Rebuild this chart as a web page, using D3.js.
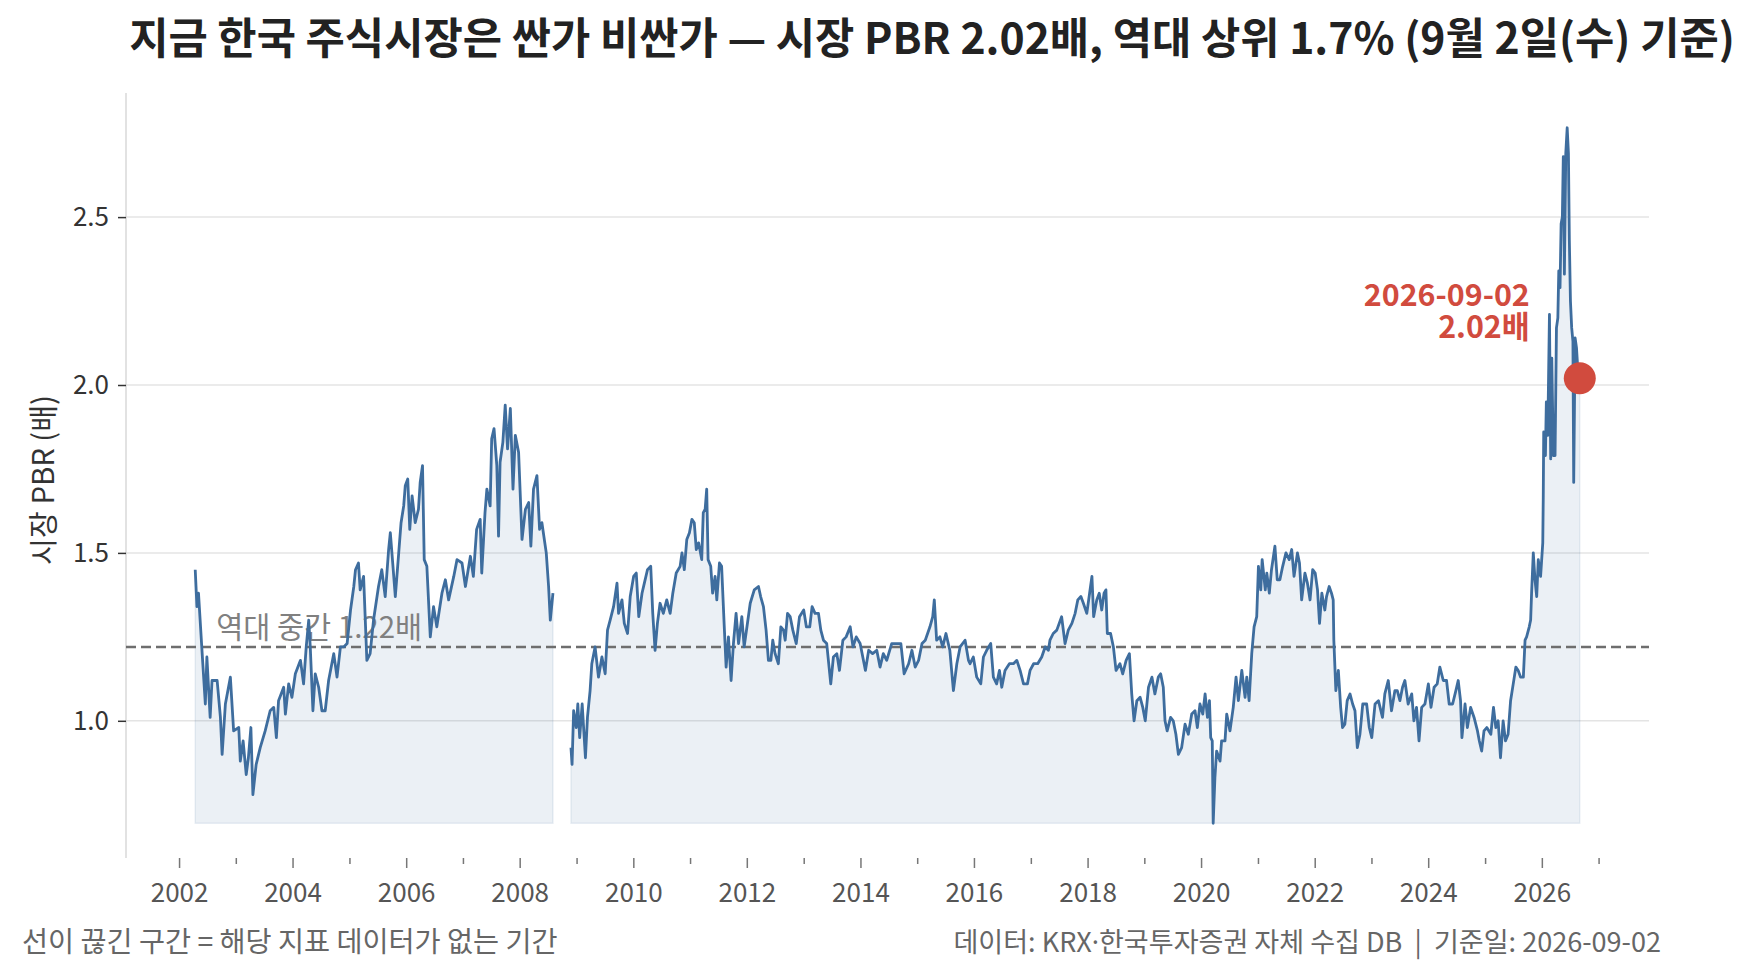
<!DOCTYPE html>
<html>
<head>
<meta charset="utf-8">
<script src="https://cdn.jsdelivr.net/npm/d3@7"></script>
<style>
  body { margin: 0; background: #fff; }
  text { font-family: "Noto Sans CJK KR", "Noto Sans", sans-serif; }
</style>
</head>
<body>
<div id="chart"></div>
<script>
// ---------------------------------------------------------------- data
var titleText = "지금 한국 주식시장은 싼가 비싼가 — 시장 PBR 2.02배, 역대 상위 1.7% (9월 2일(수) 기준)";
var yLabelText = "시장 PBR (배)";
var footLeftText = "선이 끊긴 구간 = 해당 지표 데이터가 없는 기간";
var footRightText = "데이터: KRX·한국투자증권 자체 수집 DB  |  기준일: 2026-09-02";

var medianPbr = 1.22;
var medianLabel = "역대 중간 1.22배";
var latestDate = "2026-09-02";
var latestPbr = 2.02;
var latestLabel = ["2026-09-02", "2.02배"];

var yTicks = [1.0, 1.5, 2.0, 2.5];
var xMajorYears = [2002, 2004, 2006, 2008, 2010, 2012, 2014, 2016, 2018, 2020, 2022, 2024, 2026];
var xMinorYears = [2003, 2005, 2007, 2009, 2011, 2013, 2015, 2017, 2019, 2021, 2023, 2025, 2027];

// 2002-04 ~ 2008-08
var seg1Dates = ["2002-04-15","2002-04-26","2002-05-06","2002-05-27","2002-06-19","2002-06-29","2002-07-20","2002-08-01","2002-09-03","2002-09-24",
  "2002-10-05","2002-10-26","2002-11-27","2002-12-18","2003-01-20","2003-01-30","2003-02-17","2003-03-09","2003-03-23","2003-04-08",
  "2003-04-21","2003-05-12","2003-06-07","2003-07-09","2003-08-10","2003-09-02","2003-09-19","2003-10-03","2003-11-05","2003-11-16",
  "2003-12-07","2003-12-28","2004-01-19","2004-02-21","2004-03-12","2004-03-29","2004-04-14","2004-04-24","2004-05-11","2004-05-26",
  "2004-06-17","2004-07-08","2004-07-29","2004-08-20","2004-09-22","2004-10-13","2004-11-04","2004-11-25","2004-12-17","2005-01-08",
  "2005-01-29","2005-02-09","2005-02-28","2005-03-11","2005-04-02","2005-04-23","2005-05-14","2005-06-05","2005-07-07","2005-07-28",
  "2005-08-19","2005-09-10","2005-09-21","2005-10-08","2005-10-23","2005-11-14","2005-11-29","2005-12-16","2005-12-26","2006-01-11",
  "2006-01-24","2006-02-08","2006-02-28","2006-03-21","2006-04-01","2006-04-16","2006-04-27","2006-05-14","2006-06-05","2006-06-26",
  "2006-07-17","2006-08-19","2006-09-10","2006-10-01","2006-11-03","2006-11-24","2006-12-26","2007-01-17","2007-02-18","2007-03-09",
  "2007-03-30","2007-04-22","2007-05-02","2007-05-23","2007-06-04","2007-06-25","2007-07-05","2007-07-20","2007-08-07","2007-08-18",
  "2007-08-28","2007-09-15","2007-09-30","2007-10-15","2007-11-02","2007-11-19","2007-12-04","2007-12-25","2008-01-16","2008-02-07",
  "2008-02-28","2008-03-13","2008-03-30","2008-04-21","2008-05-08","2008-05-23","2008-06-20","2008-07-05","2008-07-16","2008-08-02"];
var seg1Values = [1.45,1.34,1.38,1.22,1.05,1.19,1.01,1.12,1.12,1.01,
  0.90,1.05,1.13,0.97,0.98,0.88,0.94,0.84,0.89,0.98,
  0.78,0.87,0.92,0.97,1.03,1.04,0.95,1.06,1.10,1.02,
  1.11,1.07,1.14,1.18,1.11,1.22,1.30,1.22,1.03,1.14,
  1.10,1.03,1.03,1.12,1.20,1.13,1.22,1.22,1.23,1.33,
  1.40,1.45,1.47,1.39,1.43,1.18,1.20,1.30,1.40,1.45,
  1.37,1.51,1.56,1.46,1.37,1.50,1.59,1.64,1.70,1.72,
  1.57,1.67,1.59,1.63,1.71,1.76,1.48,1.46,1.25,1.34,
  1.28,1.38,1.42,1.36,1.43,1.48,1.47,1.40,1.49,1.43,
  1.57,1.60,1.44,1.62,1.69,1.64,1.84,1.87,1.76,1.55,
  1.77,1.83,1.94,1.81,1.93,1.69,1.85,1.80,1.54,1.63,
  1.65,1.52,1.69,1.73,1.57,1.59,1.50,1.40,1.30,1.38];

// 2008-11 ~ 2026-09
var seg2Dates = ["2008-11-26","2008-12-03","2008-12-13","2008-12-30","2009-01-09","2009-01-21","2009-02-06","2009-02-27","2009-03-12","2009-03-29",
  "2009-04-09","2009-04-30","2009-05-22","2009-06-13","2009-07-04","2009-07-19","2009-08-05","2009-08-27","2009-09-18","2009-09-28",
  "2009-10-20","2009-11-04","2009-11-25","2009-12-12","2010-01-03","2010-01-20","2010-02-05","2010-02-26","2010-03-13","2010-04-02",
  "2010-04-23","2010-05-06","2010-05-21","2010-06-05","2010-06-22","2010-07-13","2010-08-04","2010-08-26","2010-09-12","2010-10-04",
  "2010-10-29","2010-11-10","2010-11-25","2010-12-11","2010-12-28","2011-01-13","2011-01-28","2011-02-10","2011-02-25","2011-03-17",
  "2011-03-27","2011-04-08","2011-04-18","2011-04-27","2011-05-14","2011-05-26","2011-06-11","2011-06-22","2011-07-09","2011-07-23",
  "2011-08-08","2011-08-21","2011-09-05","2011-09-22","2011-10-07","2011-10-24","2011-11-09","2011-11-30","2011-12-15","2012-01-02",
  "2012-01-23","2012-02-18","2012-03-16","2012-03-30","2012-04-17","2012-05-04","2012-05-19","2012-06-04","2012-06-16","2012-07-01",
  "2012-07-22","2012-08-07","2012-08-24","2012-09-04","2012-09-19","2012-10-06","2012-10-23","2012-11-14","2012-12-05","2013-01-01",
  "2013-01-18","2013-02-09","2013-02-24","2013-03-15","2013-04-06","2013-04-21","2013-05-08","2013-05-29","2013-06-24","2013-07-11",
  "2013-08-02","2013-08-19","2013-09-10","2013-10-01","2013-10-27","2013-11-14","2013-12-05","2013-12-30","2014-02-02","2014-02-23",
  "2014-03-20","2014-04-16","2014-05-07","2014-05-28","2014-06-19","2014-07-21","2014-08-23","2014-09-18","2014-10-09","2014-11-07",
  "2014-11-28","2014-12-19","2015-01-10","2015-02-01","2015-02-22","2015-03-24","2015-04-11","2015-04-21","2015-05-06","2015-05-27",
  "2015-06-14","2015-07-05","2015-07-30","2015-08-22","2015-09-13","2015-10-04","2015-11-05","2015-11-27","2015-12-07","2015-12-28",
  "2016-01-19","2016-02-14","2016-03-02","2016-03-23","2016-04-18","2016-05-05","2016-05-26","2016-06-13","2016-06-28","2016-07-19",
  "2016-08-16","2016-09-11","2016-10-03","2016-10-24","2016-11-15","2016-12-10","2016-12-27","2017-01-19","2017-02-14","2017-03-12",
  "2017-04-03","2017-04-24","2017-05-04","2017-05-25","2017-06-17","2017-07-18","2017-08-09","2017-08-30","2017-09-22","2017-10-13",
  "2017-10-30","2017-11-19","2017-12-05","2017-12-27","2018-01-14","2018-01-29","2018-02-09","2018-03-01","2018-03-17","2018-04-02",
  "2018-04-17","2018-04-29","2018-05-08","2018-05-29","2018-06-16","2018-07-03","2018-07-28","2018-08-15","2018-09-06","2018-09-27",
  "2018-10-12","2018-10-27","2018-11-14","2018-12-05","2018-12-22","2019-01-07","2019-01-28","2019-02-19","2019-03-10","2019-04-01",
  "2019-04-16","2019-05-03","2019-05-14","2019-05-28","2019-06-19","2019-07-06","2019-07-23","2019-08-08","2019-08-29","2019-09-20",
  "2019-10-11","2019-11-02","2019-11-23","2019-12-08","2019-12-25","2020-01-12","2020-01-27","2020-02-11","2020-02-24","2020-03-03",
  "2020-03-13","2020-03-19","2020-03-30","2020-04-10","2020-05-02","2020-05-12","2020-06-03","2020-06-14","2020-07-05","2020-07-26",
  "2020-08-13","2020-08-28","2020-09-19","2020-10-10","2020-10-21","2020-11-05","2020-11-22","2020-12-07","2020-12-24","2021-01-04",
  "2021-01-19","2021-01-28","2021-02-17","2021-02-27","2021-03-15","2021-03-29","2021-04-20","2021-05-05","2021-05-22","2021-06-09",
  "2021-06-30","2021-07-21","2021-08-06","2021-08-21","2021-09-12","2021-09-25","2021-10-09","2021-10-30","2021-11-15","2021-12-02",
  "2021-12-19","2022-01-04","2022-01-19","2022-02-01","2022-02-16","2022-03-07","2022-03-18","2022-04-04","2022-04-19","2022-04-30",
  "2022-05-04","2022-05-17","2022-06-02","2022-06-17","2022-06-29","2022-07-14","2022-07-29","2022-08-16","2022-09-02","2022-09-17",
  "2022-10-02","2022-10-19","2022-11-06","2022-12-01","2022-12-18","2023-01-03","2023-01-24","2023-02-15","2023-03-13","2023-03-28",
  "2023-04-19","2023-05-10","2023-06-01","2023-06-16","2023-07-03","2023-07-20","2023-08-04","2023-08-25","2023-09-17","2023-10-01",
  "2023-10-18","2023-11-03","2023-11-20","2023-12-11","2024-01-02","2024-01-19","2024-02-08","2024-02-28","2024-03-16","2024-04-07",
  "2024-04-28","2024-05-15","2024-06-06","2024-06-27","2024-07-12","2024-07-27","2024-08-05","2024-08-25","2024-09-09","2024-09-30",
  "2024-10-22","2024-11-13","2024-11-25","2024-12-10","2024-12-25","2025-01-12","2025-02-07","2025-02-24","2025-03-11","2025-03-26",
  "2025-04-10","2025-04-27","2025-05-12","2025-05-29","2025-06-14","2025-07-01","2025-07-18","2025-08-02","2025-08-17","2025-09-04",
  "2025-09-15","2025-09-25","2025-10-12","2025-10-21","2025-10-27","2025-11-07","2025-11-18","2025-11-29","2025-12-09","2025-12-24",
  "2026-01-07","2026-01-10","2026-01-13","2026-01-24","2026-01-30","2026-02-08","2026-02-19","2026-02-27","2026-03-06","2026-03-16",
  "2026-03-27","2026-04-05","2026-04-14","2026-04-20","2026-04-28","2026-05-05","2026-05-13","2026-05-19","2026-05-26","2026-06-04",
  "2026-06-13","2026-06-21","2026-06-27","2026-07-04","2026-07-12","2026-07-20","2026-07-25","2026-08-03","2026-08-12","2026-08-20",
  "2026-09-02"];
var seg2Values = [0.92,0.87,1.03,0.98,1.05,0.95,1.05,0.89,1.01,1.09,
  1.17,1.22,1.13,1.19,1.14,1.27,1.30,1.34,1.41,1.32,
  1.36,1.29,1.26,1.37,1.43,1.44,1.31,1.38,1.41,1.45,
  1.46,1.32,1.21,1.29,1.35,1.32,1.36,1.32,1.38,1.44,
  1.46,1.50,1.45,1.54,1.56,1.60,1.59,1.51,1.53,1.48,
  1.62,1.63,1.69,1.48,1.46,1.38,1.43,1.36,1.47,1.46,
  1.29,1.16,1.25,1.12,1.23,1.32,1.23,1.31,1.22,1.28,
  1.35,1.39,1.40,1.37,1.34,1.27,1.18,1.18,1.24,1.20,
  1.17,1.28,1.27,1.24,1.32,1.31,1.27,1.23,1.31,1.33,
  1.28,1.28,1.34,1.32,1.32,1.27,1.24,1.23,1.11,1.19,
  1.20,1.15,1.24,1.25,1.28,1.22,1.25,1.23,1.15,1.21,
  1.20,1.21,1.16,1.20,1.18,1.23,1.23,1.23,1.14,1.17,
  1.21,1.16,1.18,1.23,1.24,1.28,1.31,1.36,1.24,1.25,
  1.22,1.26,1.21,1.09,1.17,1.22,1.24,1.18,1.17,1.19,
  1.13,1.11,1.19,1.21,1.23,1.13,1.11,1.15,1.10,1.15,
  1.17,1.17,1.18,1.15,1.11,1.11,1.15,1.17,1.17,1.19,
  1.22,1.21,1.24,1.26,1.27,1.31,1.23,1.27,1.29,1.32,
  1.36,1.37,1.35,1.32,1.38,1.43,1.31,1.36,1.38,1.33,
  1.38,1.39,1.26,1.26,1.22,1.15,1.17,1.14,1.18,1.20,
  1.08,1.00,1.06,1.07,1.04,1.00,1.10,1.13,1.08,1.13,
  1.14,1.10,1.00,0.97,1.01,1.00,0.96,0.90,0.92,0.99,
  0.96,1.02,1.03,0.98,1.05,1.02,1.08,1.01,1.06,0.95,
  0.94,0.695,0.83,0.91,0.88,0.94,0.94,1.02,0.97,1.04,
  1.13,1.06,1.15,1.07,1.13,1.06,1.20,1.28,1.31,1.46,
  1.39,1.48,1.39,1.44,1.38,1.45,1.52,1.42,1.42,1.46,
  1.50,1.48,1.51,1.43,1.50,1.47,1.36,1.44,1.41,1.36,
  1.45,1.44,1.39,1.29,1.38,1.33,1.37,1.40,1.38,1.36,
  1.24,1.09,1.15,1.04,0.98,0.99,1.06,1.08,1.05,1.03,
  0.92,0.96,1.05,1.05,0.98,0.95,1.05,1.06,1.01,1.08,
  1.12,1.03,1.09,1.09,1.06,1.10,1.12,1.05,1.08,1.00,
  1.04,0.94,1.04,1.05,1.11,1.04,1.10,1.11,1.16,1.12,
  1.12,1.05,1.05,1.09,1.12,1.06,0.95,1.05,0.98,1.04,
  1.01,0.97,0.94,0.91,0.97,0.98,0.96,1.04,0.98,1.00,
  0.89,1.00,0.94,0.96,1.06,1.11,1.16,1.15,1.13,1.13,
  1.24,1.25,1.28,1.30,1.38,1.50,1.42,1.37,1.48,1.43,
  1.53,1.66,1.86,1.79,1.95,1.85,2.21,1.78,2.08,1.79,
  1.79,2.17,2.20,2.34,2.29,2.48,2.50,2.68,2.33,2.69,
  2.766,2.69,2.43,2.25,2.17,2.13,1.71,2.14,2.11,2.05,
  2.02];

// ---------------------------------------------------------------- layout
var W = 1751, H = 975;
var margin = { left: 126, right: 102, top: 93, bottom: 117 };
var width = W - margin.left - margin.right;
var height = H - margin.top - margin.bottom;

var lineColor = "#3e6d9e";
var red = "#d14b3e";

var parse = d3.timeParse("%Y-%m-%d");
var seg1 = seg1Dates.map(function(d, i) { return { date: parse(d), value: seg1Values[i] }; });
var seg2 = seg2Dates.map(function(d, i) { return { date: parse(d), value: seg2Values[i] }; });
var all = seg1.concat(seg2);

var svg = d3.select("#chart").append("svg")
    .attr("width", W)
    .attr("height", H);
svg.append("rect").attr("width", W).attr("height", H).attr("fill", "#fff");

var g = svg.append("g")
    .attr("transform", "translate(" + margin.left + "," + margin.top + ")");

// matplotlib style 5% margins on both axes
var tExt = d3.extent(all, function(d) { return d.date; });
var tPad = (tExt[1] - tExt[0]) * 0.05;
var x = d3.scaleTime()
    .domain([new Date(+tExt[0] - tPad), new Date(+tExt[1] + tPad)])
    .range([0, width]);

var vMin = d3.min(all, function(d) { return d.value; });
var vMax = d3.max(all, function(d) { return d.value; });
var vPad = (vMax - vMin) * 0.05;
var y = d3.scaleLinear()
    .domain([vMin - vPad, vMax + vPad])
    .range([height, 0]);

// grid
g.selectAll(".grid")
    .data(yTicks)
    .enter().append("line")
        .attr("class", "grid")
        .attr("x1", 0).attr("x2", width)
        .attr("y1", function(d) { return y(d); })
        .attr("y2", function(d) { return y(d); })
        .attr("stroke", "#e4e4e4")
        .attr("stroke-width", 1.5);

// left spine
g.append("line")
    .attr("x1", 0).attr("x2", 0)
    .attr("y1", 0).attr("y2", height)
    .attr("stroke", "#d9d9d9")
    .attr("stroke-width", 1.5);

// y axis
var yAxis = g.append("g")
    .call(d3.axisLeft(y).tickValues(yTicks).tickSize(8).tickPadding(9).tickFormat(d3.format(".1f")));
yAxis.select(".domain").remove();
yAxis.selectAll("line").attr("stroke", "#333").attr("stroke-width", 1.5);
yAxis.selectAll("text")
    .attr("fill", "#333")
    .style("font-size", "26px");

// x axis, major + minor ticks
var xAxis = g.append("g")
    .attr("transform", "translate(0," + height + ")")
    .call(d3.axisBottom(x)
        .tickValues(xMajorYears.map(function(yr) { return new Date(yr, 0, 1); }))
        .tickSize(10)
        .tickPadding(16)
        .tickFormat(d3.timeFormat("%Y")));
xAxis.select(".domain").remove();
xAxis.selectAll("line").attr("stroke", "#777").attr("stroke-width", 1.5);
xAxis.selectAll("text")
    .attr("fill", "#555")
    .style("font-size", "26px");

var xMinor = g.append("g")
    .attr("transform", "translate(0," + height + ")")
    .call(d3.axisBottom(x)
        .tickValues(xMinorYears.map(function(yr) { return new Date(yr, 0, 1); }))
        .tickSize(6)
        .tickFormat(""));
xMinor.select(".domain").remove();
xMinor.selectAll("line").attr("stroke", "#777").attr("stroke-width", 1.5);

// area fill under each segment (down to the series minimum)
var area = d3.area()
    .x(function(d) { return x(d.date); })
    .y0(y(vMin))
    .y1(function(d) { return y(d.value); });

[seg1, seg2].forEach(function(seg) {
    g.append("path")
        .datum(seg)
        .attr("d", area)
        .attr("fill", lineColor)
        .attr("fill-opacity", 0.1)
        .attr("stroke", lineColor)
        .attr("stroke-opacity", 0.1)
        .attr("stroke-width", 1.5);
});

// helper: scale font size so the text hits a given width
function fitWidth(sel, w) {
    var len = sel.node().getComputedTextLength();
    var fs = parseFloat(sel.style("font-size"));
    sel.style("font-size", (fs * w / len) + "px");
}

// median line + label
g.append("line")
    .attr("x1", 0).attr("x2", width)
    .attr("y1", y(medianPbr)).attr("y2", y(medianPbr))
    .attr("stroke", "#6e6e6e")
    .attr("stroke-width", 2.4)
    .attr("stroke-dasharray", "10,5");

var medText = g.append("text")
    .attr("x", x(seg1[0].date) + 21)
    .attr("y", y(medianPbr) - 9)
    .attr("fill", "#808080")
    .style("font-size", "24px")
    .text(medianLabel);
fitWidth(medText, 206);

// PBR line
var line = d3.line()
    .x(function(d) { return x(d.date); })
    .y(function(d) { return y(d.value); });

[seg1, seg2].forEach(function(seg) {
    g.append("path")
        .datum(seg)
        .attr("d", line)
        .attr("fill", "none")
        .attr("stroke", lineColor)
        .attr("stroke-width", 2.8)
        .attr("stroke-linejoin", "round");
});

// latest point
var lx = x(parse(latestDate)), ly = y(latestPbr);
g.append("circle")
    .attr("cx", lx).attr("cy", ly)
    .attr("r", 16)
    .attr("fill", red);

var annSize = null;
latestLabel.forEach(function(t, i) {
    var a = g.append("text")
        .attr("x", lx - 50)
        .attr("y", ly - 72 + i * 32)
        .attr("text-anchor", "end")
        .attr("fill", red)
        .style("font-size", annSize || "28px")
        .style("font-weight", "bold")
        .text(t);
    if (i === 0) { fitWidth(a, 166); annSize = a.style("font-size"); }
});

// y label
var yLab = svg.append("text")
    .attr("transform", "translate(54," + (margin.top + 387) + ") rotate(-90)")
    .attr("text-anchor", "middle")
    .attr("fill", "#333")
    .style("font-size", "24px")
    .text(yLabelText);
fitWidth(yLab, 170);

// title
var title = svg.append("text")
    .attr("x", 932)
    .attr("y", 54)
    .attr("text-anchor", "middle")
    .attr("fill", "#222")
    .style("font-size", "34px")
    .style("font-weight", "bold")
    .text(titleText);
fitWidth(title, 1606);

// footers
var fl = svg.append("text")
    .attr("x", 22)
    .attr("y", 952)
    .attr("fill", "#666")
    .style("font-size", "22px")
    .text(footLeftText);
fitWidth(fl, 536);

// keep the double spaces and use a narrow latin middle dot
var fr = svg.append("text")
    .attr("x", 1661)
    .attr("y", 952)
    .attr("text-anchor", "end")
    .attr("fill", "#666")
    .style("font-size", "22px");
footRightText.replace(/ {2}/g, "\u00a0\u00a0").split("·").forEach(function(part, i) {
    if (i > 0) fr.append("tspan").style("font-family", "'Noto Sans', sans-serif").text("·");
    fr.append("tspan").text(part);
});
fitWidth(fr, 708);
</script>
</body>
</html>
